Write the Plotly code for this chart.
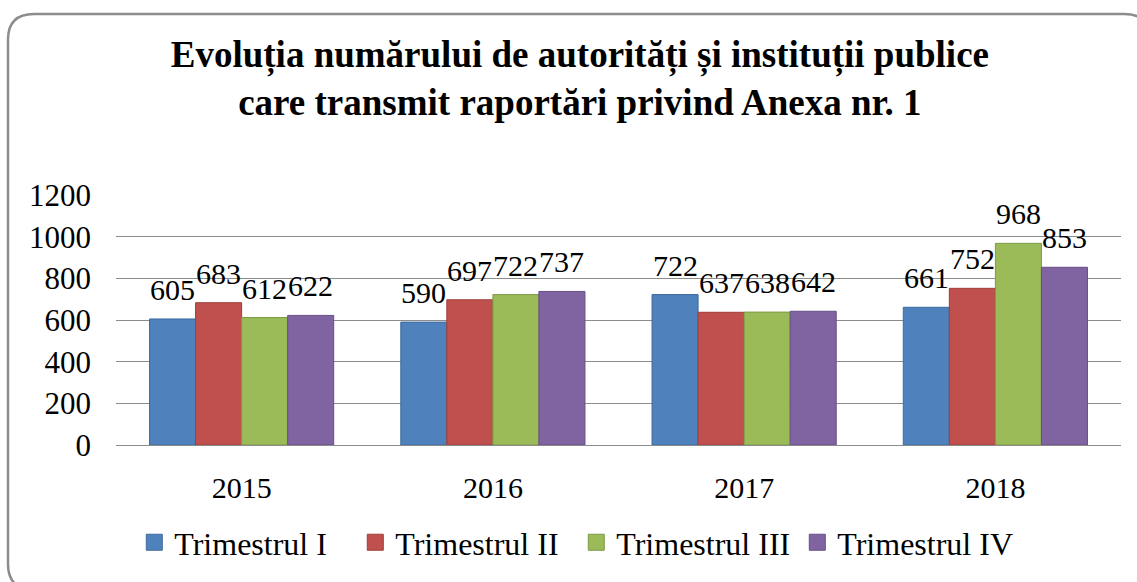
import plotly.graph_objects as go

# Data
years = ["2015", "2016", "2017", "2018"]
trim_1 = [605, 590, 722, 661]
trim_2 = [683, 697, 637, 752]
trim_3 = [612, 722, 638, 968]
trim_4 = [622, 737, 642, 853]
series_names = ["Trimestrul I", "Trimestrul II", "Trimestrul III", "Trimestrul IV"]
y_ticks = [0, 200, 400, 600, 800, 1000, 1200]

fills = ["#4F81BD", "#C0504D", "#9BBB59", "#8064A2"]
edges = ["#3D6A9E", "#9E3D3A", "#7E9A45", "#664F85"]

W, H = 1137, 582
ML, MR, MT, MB = 116, 16, 195, 133
FONT = "Liberation Serif"
BARGAP = 0.267

series = [trim_1, trim_2, trim_3, trim_4]
n = len(series)
bar_w = (1 - BARGAP) / n

fig = go.Figure()
annotations = []
for i, (name, vals, fc, ec) in enumerate(zip(series_names, series, fills, edges)):
    fig.add_trace(go.Bar(
        x=years, y=vals, name=name, showlegend=False,
        marker=dict(color=fc, line=dict(color=ec, width=1)),
    ))
    # legend entry with a larger square swatch
    fig.add_trace(go.Scatter(
        x=[None], y=[None], name=name, mode="markers",
        marker=dict(symbol="square", size=16, color=fc, line=dict(color=ec, width=1)),
    ))
    # value labels above each bar
    offset = -(1 - BARGAP) / 2 + bar_w * (i + 0.5)
    for k, v in enumerate(vals):
        annotations.append(dict(
            x=k + offset, y=v, xref="x", yref="y", text=str(v), showarrow=False,
            yanchor="bottom", xanchor="center", yshift=11,
            font=dict(family=FONT, size=30, color="#000000"),
        ))

# rounded frame around the chart, built in paper coordinates
pw, ph = W - ML - MR, H - MT - MB
def px(x):
    return (x - ML) / pw
def py(y):
    return (H - MB - y) / ph

x0, y0, x1, y1, r = 8, 11, 1150, 596, 26
pts = [
    ("M", (x0 + r, y0)), ("L", (x1 - r, y0)), ("Q", (x1, y0), (x1, y0 + r)),
    ("L", (x1, y1 - r)), ("Q", (x1, y1), (x1 - r, y1)), ("L", (x0 + r, y1)),
    ("Q", (x0, y1), (x0, y1 - r)), ("L", (x0, y0 + r)), ("Q", (x0, y0), (x0 + r, y0)),
]
path = ""
for cmd, *coords in pts:
    path += cmd + " ".join(f"{px(a):.5f},{py(b):.5f}" for a, b in coords) + " "
path += "Z"

fig.update_layout(
    width=W, height=H,
    margin=dict(l=ML, r=MR, t=MT, b=MB, pad=0),
    paper_bgcolor="white", plot_bgcolor="white",
    barmode="group", bargap=BARGAP, bargroupgap=0,
    font=dict(family=FONT, color="#000000"),
    title=dict(
        text="<b>Evoluția numărului de autorități și instituții publice<br>care transmit raportări privind Anexa nr. 1</b>",
        x=0.51, xanchor="center", y=1 - 67 / H, yanchor="top", yref="container",
        font=dict(family=FONT, size=37, color="#000000"),
    ),
    xaxis=dict(
        showgrid=False, showline=False, zeroline=False,
        tickfont=dict(family=FONT, size=30), ticklabelstandoff=22,
    ),
    yaxis=dict(
        range=[0, 1200], tickvals=y_ticks, ticktext=[str(v) for v in y_ticks],
        showgrid=True, gridcolor="#8C8C8C", gridwidth=1,
        zeroline=True, zerolinecolor="#8C8C8C", zerolinewidth=1,
        showline=False, tickfont=dict(family=FONT, size=31), ticklabelstandoff=24,
    ),
    legend=dict(
        orientation="h", x=0.458, xanchor="center", y=py(548), yanchor="middle",
        font=dict(family=FONT, size=32), entrywidth=176, traceorder="normal",
        itemsizing="trace",
    ),
    annotations=annotations,
    shapes=[dict(type="path", path=path, xref="paper", yref="paper",
                 line=dict(color="#8C8C8C", width=2.5), layer="above")],
)

fig.write_html("out.html")
